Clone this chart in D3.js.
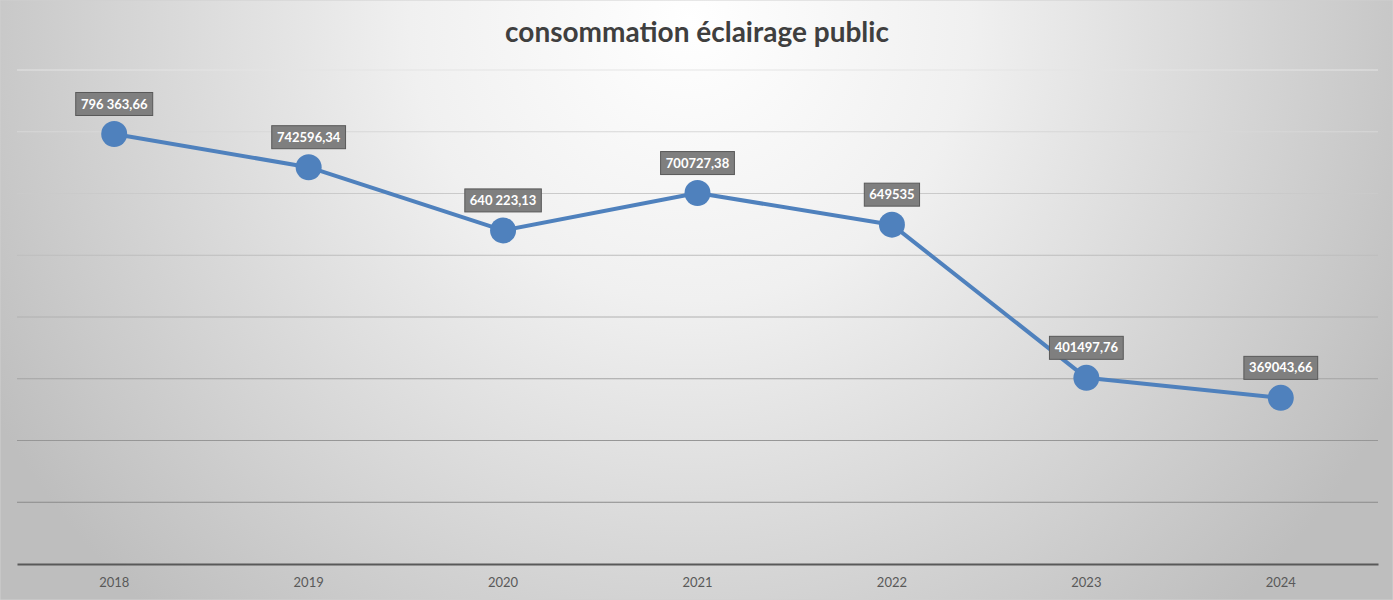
<!DOCTYPE html>
<html><head><meta charset="utf-8">
<script src="https://cdn.jsdelivr.net/npm/d3@7"></script>
<style>html,body{margin:0;padding:0;overflow:hidden;background:#fff}</style>
</head><body>
<svg id="chart" width="1393" height="600"></svg>
<script>
const years = ["2018","2019","2020","2021","2022","2023","2024"];
const values = [796363.66, 742596.34, 640223.13, 700727.38, 649535, 401497.76, 369043.66];
const labels = ["796 363,66","742596,34","640 223,13","700727,38","649535","401497,76","369043,66"];
const yTicks = [200000,300000,400000,500000,600000,700000,800000,900000];
const title = "consommation éclairage public";

const W = 1393, H = 600;
const svg = d3.select("#chart");
const defs = svg.append("defs");
const bg = defs.append("radialGradient").attr("id","bg").attr("gradientUnits","userSpaceOnUse")
  .attr("cx",690).attr("cy",20).attr("r",800);
bg.append("stop").attr("offset","0%").attr("stop-color","#ffffff");
bg.append("stop").attr("offset","35%").attr("stop-color","#f0f0f0");
bg.append("stop").attr("offset","100%").attr("stop-color","#bebebe");
const gg = defs.append("linearGradient").attr("id","grid").attr("gradientUnits","userSpaceOnUse")
  .attr("x1",0).attr("y1",70).attr("x2",0).attr("y2",502);
gg.append("stop").attr("offset","0%").attr("stop-color","#e4e4e4");
gg.append("stop").attr("offset","100%").attr("stop-color","#8a8a8a");

svg.append("rect").attr("width",W).attr("height",H).attr("fill","url(#bg)")
  .attr("stroke","#d0d0d0").attr("stroke-width",1);

const x = d3.scaleBand().domain(years).range([17,1378]);
const y = d3.scaleLinear().domain([100000,900000]).range([564,70]);

svg.append("g").selectAll("line").data(yTicks).join("line")
  .attr("x1",17).attr("x2",1378).attr("y1",d=>y(d)).attr("y2",d=>y(d))
  .attr("stroke","url(#grid)").attr("stroke-width",1);

const xAxis = svg.append("g").attr("transform",`translate(0,${y(100000)})`)
  .call(d3.axisBottom(x).tickSize(0).tickPadding(14));
xAxis.select(".domain").attr("stroke","#595959").attr("stroke-width",2);
xAxis.selectAll("text").attr("font-family","Lato, 'Open Sans', sans-serif").attr("font-size",13).attr("fill","#595959");

const cx = d => x(d) + x.bandwidth()/2;
const data = years.map((yr,i)=>({yr, v:values[i], lab:labels[i]}));

svg.append("path").datum(data)
  .attr("d", d3.line().x(d=>cx(d.yr)).y(d=>y(d.v)))
  .attr("fill","none").attr("stroke","#4f81bd").attr("stroke-width",4).attr("stroke-linejoin","round");

svg.append("g").selectAll("circle").data(data).join("circle")
  .attr("cx",d=>cx(d.yr)).attr("cy",d=>y(d.v)).attr("r",13).attr("fill","#4f81bd");

const lg = svg.append("g").selectAll("g").data(data).join("g")
  .attr("transform",d=>`translate(${cx(d.yr)},${y(d.v)-30})`);
const rects = lg.append("rect").attr("fill","#7f7f7f").attr("stroke","#595959").attr("stroke-width",1);
const texts = lg.append("text").text(d=>d.lab).attr("text-anchor","middle").attr("dy","0.35em")
  .attr("font-family","Lato, 'Open Sans', sans-serif").attr("font-weight","bold").attr("font-size",13).attr("fill","#ffffff");
texts.each(function(){
  const b = this.getBBox();
  d3.select(this.parentNode).select("rect")
    .attr("x",-b.width/2-5).attr("y",-11.5).attr("width",b.width+10).attr("height",23);
});

svg.append("text").attr("x",697).attr("y",42).attr("text-anchor","middle")
  .attr("font-family","Lato, 'Open Sans', sans-serif").attr("font-weight","bold").attr("font-size",28)
  .attr("fill","#3f3f3f").text(title);
</script>
</body></html>
